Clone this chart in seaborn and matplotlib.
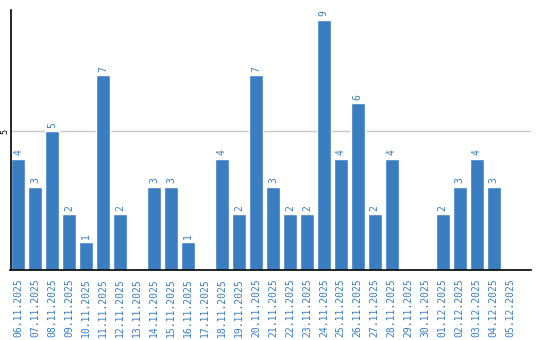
import matplotlib
matplotlib.use("Agg")
import matplotlib.pyplot as plt
import seaborn as sns
import pandas as pd

dates = ["06.11.2025", "07.11.2025", "08.11.2025", "09.11.2025", "10.11.2025",
         "11.11.2025", "12.11.2025", "13.11.2025", "14.11.2025", "15.11.2025",
         "16.11.2025", "17.11.2025", "18.11.2025", "19.11.2025", "20.11.2025",
         "21.11.2025", "22.11.2025", "23.11.2025", "24.11.2025", "25.11.2025",
         "26.11.2025", "27.11.2025", "28.11.2025", "29.11.2025", "30.11.2025",
         "01.12.2025", "02.12.2025", "03.12.2025", "04.12.2025", "05.12.2025"]
counts = [4, 3, 5, 2, 1, 7, 2, 0, 3, 3, 1, 0, 4, 2, 7, 3, 2, 2, 9, 4, 6, 2, 4, 0, 0, 2, 3, 4, 3, 0]

sns.set_theme(style="white")
plt.rcParams['font.family'] = ['DejaVu Sans Mono']

BLUE = "#3a7dc1"
df = pd.DataFrame({"date": dates, "count": counts})

fig = plt.figure(figsize=(5.4, 3.4), dpi=100)
ax = fig.add_axes([10.5/540, 70/340, 520.5/540, 260/340])
sns.barplot(data=df, x="date", y="count", color=BLUE, saturation=1, width=0.82, ax=ax)

ax.set_xlim(-0.45, len(dates) + 0.2)
ax.set_ylim(0, 260/27.8)
ax.set_yticks([5])
ax.set_yticklabels(["5"], rotation=90, va="center", fontsize=6, color="black")
ax.axhline(5, color="#c8c8c8", lw=1, zorder=0)
ax.set_xlabel("")
ax.set_ylabel("")
ax.tick_params(axis="x", labelrotation=90, labelsize=7, labelcolor=BLUE, length=0, pad=6)
ax.tick_params(axis="y", length=0, pad=1)

for i, v in enumerate(counts):
    if v > 0:
        ax.text(i, v + 0.12, str(v), rotation=90, ha="center", va="bottom",
                fontsize=7, color=BLUE)

for s in ["top", "right"]:
    ax.spines[s].set_visible(False)
for s in ["left", "bottom"]:
    ax.spines[s].set_color("black")
    ax.spines[s].set_linewidth(1.2)

fig.savefig("out.png", dpi=100)
